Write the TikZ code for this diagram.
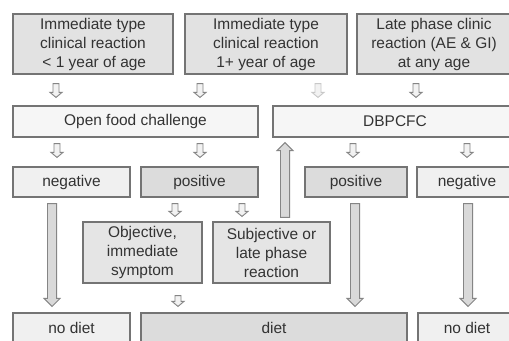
\documentclass[tikz,border=0pt]{standalone}
\usepackage{fontspec}
\setmainfont{Liberation Sans}
\usepackage{tikz}
\usetikzlibrary{calc}
\definecolor{boxline}{HTML}{747474}
\definecolor{txt}{HTML}{333333}
\definecolor{topfill}{HTML}{E2E2E2}
\definecolor{testfill}{HTML}{F6F6F6}
\definecolor{negfill}{HTML}{F0F0F0}
\definecolor{posfill}{HTML}{DCDCDC}
\definecolor{sympfill}{HTML}{E5E5E5}
\definecolor{arrline}{HTML}{858585}
\definecolor{arrfill}{HTML}{D9D9D9}
\definecolor{arrlight}{HTML}{F2F2F2}
\tikzstyle{box} = [rectangle, draw=boxline, line width=0.9pt, inner sep=0pt, align=center, text=txt, minimum height=22.5pt, font=\fontsize{11.6}{14.25}\selectfont]
\tikzstyle{tall} = [box, minimum height=45pt]
\tikzstyle{smallarrow} = [draw=arrline, fill=arrlight, line width=0.7pt]
\tikzstyle{fadedarrow} = [draw=arrline!45, fill=arrlight, line width=0.7pt]
\tikzstyle{longarrow} = [draw=arrline, fill=arrfill, line width=0.7pt]
\newcommand{\blockarr}[6]{%
	\coordinate (bs) at (#5);
	\coordinate (be) at (#6);
	\coordinate (bh) at ($(be)!#3!(bs)$);
	\filldraw[#4] ($(bs)!#1!90:(be)$) -- ($(bh)!#1!-90:(bs)$) -- ($(bh)!#2!-90:(bs)$) -- (be)
		-- ($(bh)!#2!90:(bs)$) -- ($(bh)!#1!90:(bs)$) -- ($(bs)!#1!-90:(be)$) -- cycle;
}
\newcommand{\smallarr}[3][smallarrow]{\blockarr{2.25pt}{4.5pt}{3.75pt}{#1}{#2}{#3}}
\newcommand{\longarr}[2]{\blockarr{3.4pt}{6pt}{6pt}{longarrow}{#1}{#2}}

\begin{document}
\begin{tikzpicture}[x=0.75pt, y=-0.75pt]
	\clip (0,0) rectangle (509,340);
	\fill[white] (0,0) rectangle (509,340);
	\node (imm1) at (93,44) [tall, fill=topfill, minimum width=120pt] {Immediate type\\clinical reaction\\\,< 1 year of age};
	\node (imm2) at (266,44) [tall, fill=topfill, minimum width=121.5pt] {Immediate type\\clinical reaction\\1+ year of age};
	\node (late) at (434,44) [tall, fill=topfill, minimum width=115.5pt] {Late phase clinic\\reaction (AE \& GI)\\at any age};
	\node (open) at (135.5,121.5) [box, fill=testfill, minimum width=183.75pt, minimum height=23.25pt] {Open food challenge};
	\node (dbp) at (395,121.5) [box, fill=testfill, minimum width=183pt, minimum height=23.25pt] {DBPCFC};
	\node (neg1) at (71.5,182) [box, fill=negfill, minimum width=87.75pt] {negative};
	\node (pos1) at (199.5,182) [box, fill=posfill, minimum width=87.75pt] {positive};
	\node (pos2) at (356,182) [box, fill=posfill, minimum width=76.5pt] {positive};
	\node (neg2) at (467,182) [box, fill=negfill, minimum width=75pt] {negative};
	\node (obj) at (142.5,252.5) [tall, fill=sympfill, minimum width=89.25pt, minimum height=45.75pt] {Objective,\\immediate\\symptom};
	\node (subj) at (271.5,252.5) [tall, fill=sympfill, minimum width=87.75pt, minimum height=45.75pt] {Subjective or\\late phase\\reaction};
	\node (nodiet1) at (71.5,328) [box, fill=negfill, minimum width=87.75pt] {no diet};
	\node (diet) at (274,328) [box, fill=posfill, minimum width=199.5pt] {diet};
	\node (nodiet2) at (467,328) [box, fill=negfill, minimum width=73.5pt] {no diet};
	\smallarr{$(56,0 |- imm1.south)+(0,9)$}{$(56,0 |- open.north)+(0,-8)$}
	\smallarr{$(200,0 |- imm2.south)+(0,9)$}{$(200,0 |- open.north)+(0,-8)$}
	\smallarr[fadedarrow]{$(318,0 |- imm2.south)+(0,9)$}{$(318,0 |- dbp.north)+(0,-8)$}
	\smallarr{$(416,0 |- late.south)+(0,9)$}{$(416,0 |- dbp.north)+(0,-8)$}
	\smallarr{$(57,0 |- open.south)+(0,6)$}{$(57,0 |- neg1.north)+(0,-9)$}
	\smallarr{$(200,0 |- open.south)+(0,6)$}{$(200,0 |- pos1.north)+(0,-9)$}
	\smallarr{$(353,0 |- dbp.south)+(0,6)$}{$(353,0 |- pos2.north)+(0,-9)$}
	\smallarr{$(467,0 |- dbp.south)+(0,6)$}{$(467,0 |- neg2.north)+(0,-9)$}
	\smallarr{$(175,0 |- pos1.south)+(0,6)$}{$(175,0 |- obj.north)+(0,-5)$}
	\smallarr{$(242,0 |- pos1.south)+(0,6)$}{$(242,0 |- subj.north)+(0,-5)$}
	\smallarr{$(178,0 |- obj.south)+(0,12)$}{$(178,0 |- diet.north)+(0,-6)$}
	\longarr{$(285,0 |- subj.north)+(0,-4)$}{$(285,0 |- dbp.south)+(0,5)$}
	\longarr{$(52,0 |- neg1.south)+(0,6)$}{$(52,0 |- nodiet1.north)+(0,-6)$}
	\longarr{$(355,0 |- pos2.south)+(0,6)$}{$(355,0 |- diet.north)+(0,-6)$}
	\longarr{$(468,0 |- neg2.south)+(0,6)$}{$(468,0 |- nodiet2.north)+(0,-6)$}
\end{tikzpicture}
\end{document}
